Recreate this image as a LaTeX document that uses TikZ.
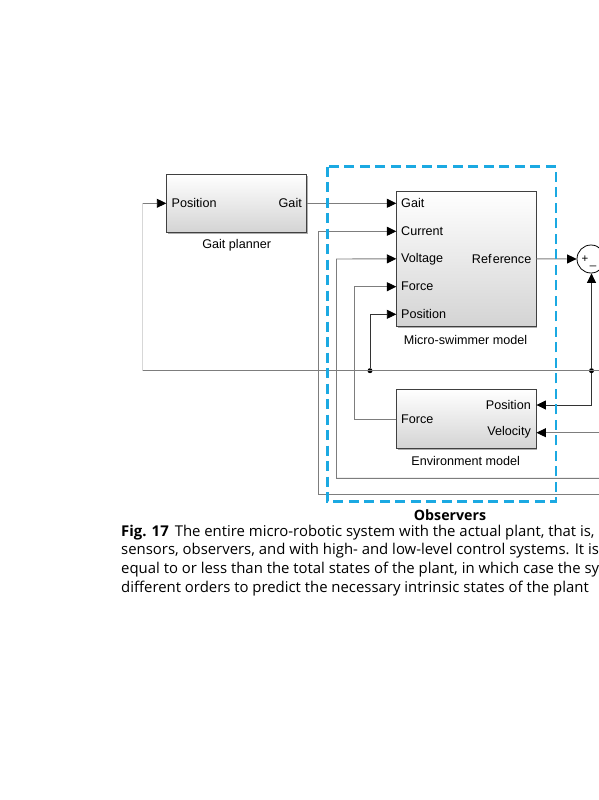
\documentclass[tikz,border=0pt]{standalone}
\usepackage{fontspec}
\setmainfont{Liberation Sans}
\newfontfamily\capfont[Ligatures=NoCommon]{Open Sans}
\usetikzlibrary{arrows.meta,shadows}
\definecolor{obsblue}{RGB}{27,169,226}
\definecolor{wire}{RGB}{125,125,125}
\definecolor{faintwire}{RGB}{215,215,215}
\begin{document}
\begin{tikzpicture}[x=1pt,y=-1pt,
  blk/.style={draw=black!75, line width=0.8pt, top color=white, bottom color=black!17,
    inner sep=0pt, drop shadow={shadow xshift=1.3pt, shadow yshift=-1.3pt, fill=black!45, opacity=0.7}},
  conn/.style={draw=wire, line width=0.9pt},
  darkconn/.style={draw=black!80, line width=0.8pt},
  faint/.style={draw=faintwire, line width=0.9pt},
  tip/.style={-{Triangle[length=9.5pt,width=9pt,color=black]}},
  lbl/.style={font=\fontsize{12.6}{14}\selectfont, inner sep=0pt},
  captxt/.style={font=\capfont\fontsize{14.9}{18}\selectfont, anchor=base west, inner sep=0pt},
  dot/.style={circle, fill=black, inner sep=0pt, minimum size=5pt}]
\useasboundingbox[fill=white] (0,0) rectangle (599,800);

% blocks
\node[blk, minimum width=140pt, minimum height=58pt] (gp) at (236.7,203.3) {};
\node[blk, minimum width=139.3pt, minimum height=135.7pt] (ms) at (466.4,258.8) {};
\node[blk, minimum width=139.3pt, minimum height=59pt] (env) at (466.4,418.8) {};
\node[draw=black, line width=0.8pt, circle, minimum size=28pt, inner sep=0pt] (sum) at (591,259) {};
\node[font=\fontsize{11.5}{12}\selectfont, inner sep=0pt] (plus) at (585,259.5) {+};
\node[font=\fontsize{11.5}{12}\selectfont, inner sep=0pt] (minus) at (593,266) {\_};

% block labels
\node[lbl, anchor=west] (gpPos) at (171.5,203.3) {Position};
\node[lbl, anchor=east] (gpGait) at (302,203.3) {Gait};
\node[lbl] (gpName) at (236.7,245.5) {Gait planner};

\node[lbl, anchor=west] (msGait) at (401,203.3) {Gait};
\node[lbl, anchor=west] (msCur) at (401,231.3) {Current};
\node[lbl, anchor=west] (msVol) at (401,259) {Voltage};
\node[lbl, anchor=west] (msFor) at (401,286.7) {Force};
\node[lbl, anchor=west] (msPos) at (401,314.3) {Position};
\node[lbl, anchor=east] (msRef) at (531.5,259) {Ref\kern1.2pt erence};
\node[lbl] (msName) at (465.5,340) {Micro-swimmer model};

\node[lbl, anchor=east] (envPos) at (531,405) {Position};
\node[lbl, anchor=east] (envVel) at (531,432.5) {Velocity};
\node[lbl, anchor=west] (envFor) at (401,419.3) {Force};
\node[lbl] (envName) at (465.7,460.5) {Environment model};

% free ends and junctions
\coordinate (inL) at (142.7,203.3);
\coordinate (fbL) at (142.7,370.7);
\coordinate (fbR) at (600,370.7);
\coordinate (curR) at (600,494);
\coordinate (volR) at (600,478.3);
\coordinate (velR) at (600,432.7);
\node[dot] (j1) at (370,370.7) {};
\node[dot] (j2) at (591.5,370.7) {};

% connectors
\draw[faint] (inL) -- (fbL);
\draw[conn] (fbL) -- (fbR);
\draw[conn, tip] (inL) -- (gp.west);
\draw[conn, tip] (gp.east) -- (ms.west |- gp.east);
\draw[conn, tip] (curR) -- (318,494) -- (318,231.3) -- (ms.west |- 0,231.3);
\draw[conn, tip] (volR) -- (336.5,478.3) -- (336.5,259) -- (ms.west);
\draw[conn, tip] (env.west |- 0,419.3) -- (354,419.3) -- (354,286.7) -- (ms.west |- 0,286.7);
\draw[darkconn, tip] (j1) -- (370,314.3) -- (ms.west |- 0,314.3);
\draw[conn, tip] (ms.east) -- (sum.west);
\draw[darkconn, tip] (j2) -- (sum.south -| j2);
\draw[darkconn, tip] (j2) -- (591.5,405) -- (env.east |- 0,405);
\draw[conn, tip] (velR) -- (env.east |- velR);

% observers frame
\draw[obsblue, line width=2.6pt, dash pattern=on 10pt off 5.5pt] (327.3,166.7) rectangle (556,501.7);
\node[font=\capfont\bfseries\fontsize{14.2}{16}\selectfont, inner sep=0pt] (obs) at (450,515.5) {Observers};

% caption
\node[captxt] (c1) at (121,536) {\textbf{Fig. 17}\hspace{6pt}The entire micro-robotic system with the actual plant, that is,};
\node[captxt] (c2) at (121,554.7) {sensors, observers, and with high- and low-level control systems. It is};
\node[captxt] (c3) at (121,573.3) {equal to or less than the total states of the plant, in which case the sy};
\node[captxt] (c4) at (121,592) {different orders to predict the necessary intrinsic states of the plant};
\end{tikzpicture}
\end{document}
